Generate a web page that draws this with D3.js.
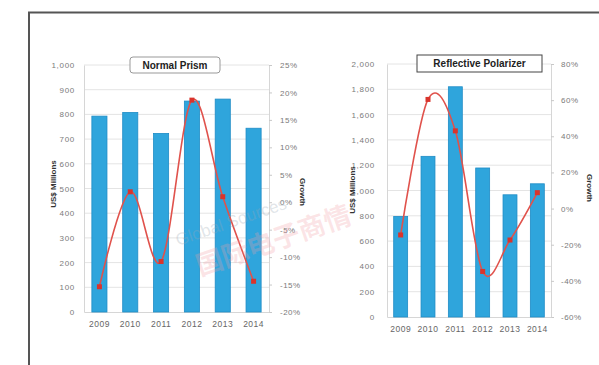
<!DOCTYPE html>
<html>
<head>
<meta charset="utf-8">
<script src="https://cdn.jsdelivr.net/npm/d3@7/dist/d3.min.js"></script>
<style>
  html, body { margin: 0; padding: 0; background: #fff; }
  svg { display: block; font-family: "Liberation Sans", Arial, sans-serif; }
</style>
</head>
<body>
<svg id="chart" width="599" height="365"></svg>
<script>
// Shared categories
const years = ["2009", "2010", "2011", "2012", "2013", "2014"];

// Normal Prism: revenue (US$ millions) and year-on-year growth (%)
const prismRevenue = [793, 808, 723, 854, 862, 744];
const prismGrowth = [-15.4, 1.9, -10.8, 18.6, 1.0, -14.4];
const prismRevenueTicks = [0, 100, 200, 300, 400, 500, 600, 700, 800, 900, 1000];
const prismGrowthTicks = [-20, -15, -10, -5, 0, 5, 10, 15, 20, 25];

// Reflective Polarizer: revenue (US$ millions) and year-on-year growth (%)
const polRevenue = [795, 1270, 1820, 1178, 966, 1053];
const polGrowth = [-14.6, 60.4, 43.0, -34.8, -17.4, 8.8];
const polRevenueTicks = [0, 200, 400, 600, 800, 1000, 1200, 1400, 1600, 1800, 2000];
const polGrowthTicks = [-60, -40, -20, 0, 20, 40, 60, 80];

const svg = d3.select("#chart");

// outer frame
svg.append("path")
  .attr("d", "M29,365 V12.5 H599")
  .attr("fill", "none")
  .attr("stroke", "#555")
  .attr("stroke-width", 2);

const barFill = "#2fa5dc";
const barEdge = "#1f8cc6";
const lineColor = "#e0524c";
const tickColor = "#7a7a7a";
const fmtComma = d3.format(",");

function drawPanel(cfg) {
  const g = svg.append("g");
  const x = d3.scaleBand().domain(years).range([cfg.left, cfg.right]).paddingInner(cfg.pad).paddingOuter(cfg.pad / 2);
  const y = d3.scaleLinear().domain(cfg.yDomain).range([cfg.bottom, cfg.top]);
  const y2 = d3.scaleLinear().domain(cfg.y2Domain).range([cfg.bottom, cfg.top]);

  // horizontal gridlines
  g.append("g").selectAll("line").data(cfg.yTicks.slice(1)).join("line")
    .attr("x1", cfg.left).attr("x2", cfg.right)
    .attr("y1", d => y(d)).attr("y2", d => y(d))
    .attr("stroke", "#e4e4e4").attr("stroke-width", 1);

  // left axis
  const la = g.append("g").attr("transform", `translate(${cfg.left},0)`)
    .call(d3.axisLeft(y).tickValues(cfg.yTicks).tickFormat(fmtComma).tickSize(0).tickPadding(cfg.leftPad));
  la.select(".domain").attr("stroke", "#d6d6d6");
  la.selectAll("text").attr("fill", tickColor).style("font-size", "8px").style("letter-spacing", "0.7px");

  // right axis
  const ra = g.append("g").attr("transform", `translate(${cfg.right},0)`)
    .call(d3.axisRight(y2).tickValues(cfg.y2Ticks).tickFormat(d => d + "%").tickSize(3).tickPadding(cfg.rightPad));
  ra.select(".domain").attr("stroke", "#d6d6d6");
  ra.selectAll(".tick line").attr("stroke", "#c8c8c8");
  ra.selectAll("text").attr("fill", tickColor).style("font-size", "8px").style("letter-spacing", "0.5px");

  // bottom axis
  const ba = g.append("g").attr("transform", `translate(0,${cfg.bottom})`)
    .call(d3.axisBottom(x).tickSize(0).tickPadding(9));
  ba.select(".domain").attr("stroke", "#d6d6d6");
  ba.selectAll("text").attr("fill", "#666").style("font-size", "8.5px").style("letter-spacing", "0.5px");

  // bars
  g.append("g").selectAll("rect").data(cfg.revenue).join("rect")
    .attr("x", (d, i) => x(years[i]))
    .attr("width", x.bandwidth())
    .attr("y", d => y(d))
    .attr("height", d => y(0) - y(d))
    .attr("fill", barFill)
    .attr("stroke", barEdge)
    .attr("stroke-width", 0.8);

  // smoothed growth line
  const pts = cfg.growth.map((d, i) => [x(years[i]) + x.bandwidth() / 2, y2(d)]);
  g.append("path")
    .attr("d", d3.line().curve(d3.curveCatmullRom.alpha(0))(pts))
    .attr("fill", "none")
    .attr("stroke", lineColor)
    .attr("stroke-width", 1.6);
  g.append("g").selectAll("rect").data(pts).join("rect")
    .attr("x", d => d[0] - 2.5).attr("y", d => d[1] - 2.5)
    .attr("width", 5).attr("height", 5)
    .attr("fill", "#d9342c");

  // axis titles
  g.append("text")
    .attr("transform", `translate(${cfg.yTitleX},${cfg.yTitleY}) rotate(-90)`)
    .attr("text-anchor", "middle")
    .style("font-size", "8px").style("font-weight", "bold").attr("fill", "#333")
    .text("US$ Millions");
  g.append("text")
    .attr("transform", `translate(${cfg.gTitleX},${cfg.gTitleY}) rotate(90)`)
    .attr("text-anchor", "middle")
    .style("font-size", "8px").style("font-weight", "bold").attr("fill", "#333")
    .text("Growth");

  // panel title box
  const tb = cfg.titleBox;
  g.append("rect")
    .attr("x", tb[0]).attr("y", tb[1]).attr("width", tb[2]).attr("height", tb[3])
    .attr("rx", cfg.titleRx)
    .attr("fill", "#fff").attr("stroke", cfg.titleStroke).attr("stroke-width", 1);
  g.append("text")
    .attr("x", tb[0] + tb[2] / 2).attr("y", tb[1] + tb[3] / 2 + 3.5)
    .attr("text-anchor", "middle")
    .style("font-size", "10px").style("font-weight", "bold").attr("fill", "#222")
    .text(cfg.title);
}

drawPanel({
  left: 84, right: 269, top: 65, bottom: 312, pad: 0.51,
  yDomain: [0, 1000], y2Domain: [-20, 25],
  yTicks: prismRevenueTicks, y2Ticks: prismGrowthTicks,
  revenue: prismRevenue, growth: prismGrowth,
  leftPad: 9, rightPad: 8,
  yTitleX: 56, yTitleY: 184, gTitleX: 300, gTitleY: 192,
  title: "Normal Prism", titleBox: [130, 57, 90, 16], titleRx: 3, titleStroke: "#999"
});

drawPanel({
  left: 387, right: 551, top: 64, bottom: 317, pad: 0.49,
  yDomain: [0, 2000], y2Domain: [-60, 80],
  yTicks: polRevenueTicks, y2Ticks: polGrowthTicks,
  revenue: polRevenue, growth: polGrowth,
  leftPad: 12, rightPad: 7,
  yTitleX: 355, yTitleY: 190, gTitleX: 587, gTitleY: 188,
  title: "Reflective Polarizer", titleBox: [417, 55, 125, 17], titleRx: 0, titleStroke: "#444"
});

// faint publisher watermark
const wm = svg.append("g").attr("pointer-events", "none");
wm.append("text")
  .attr("transform", "translate(178,246) rotate(-19)")
  .style("font-size", "17px").attr("fill", "#9aa7b4").attr("fill-opacity", 0.3)
  .text("Global Sources");
wm.append("text")
  .attr("transform", "translate(200,276) rotate(-19)")
  .style("font-family", "'Noto Sans CJK SC'")
  .style("font-size", "27px").style("font-weight", "bold").attr("fill", "#f2a0a8").attr("fill-opacity", 0.28)
  .text("国际电子商情");
</script>
</body>
</html>
